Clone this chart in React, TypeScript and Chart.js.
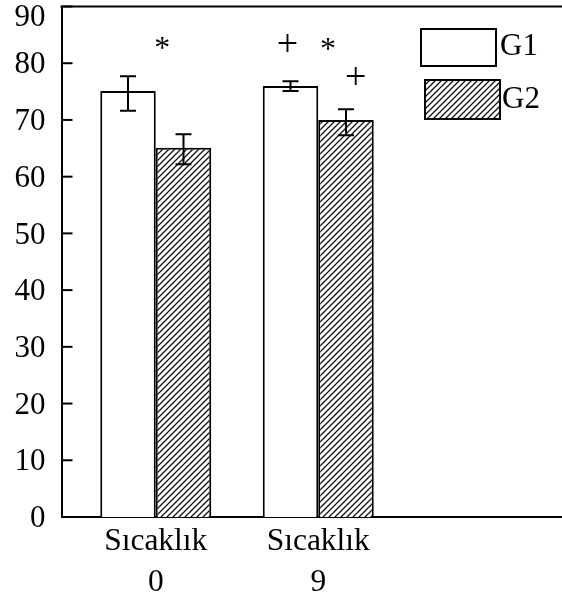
import { useEffect, useRef } from 'react';
import { Chart, registerables } from 'chart.js';

Chart.register(...registerables);

// ---- data ----
const categories: string[][] = [['Sıcaklık', '0'], ['Sıcaklık', '9']];
const categoryPositions = [0, 1];
const seriesNames = ['G1', 'G2'];
const g1Values = [75.1, 76.0];
const g1Low = [71.6, 75.1];
const g1High = [77.7, 76.8];
const g2Values = [65.1, 70.0];
const g2Low = [62.2, 67.3];
const g2High = [67.5, 71.9];
const yTicks = [0, 10, 20, 30, 40, 50, 60, 70, 80, 90];
const markTexts = ['*', '+', '*', '+'];
const markX = [0.04, 0.81, 1.06, 1.23];
const markY = [82.4, 83.0, 82.2, 77.3];

const FONT = '"Liberation Serif", "Times New Roman", serif';

function makeHatch(): CanvasPattern | string {
  const s = 6;
  const c = document.createElement('canvas');
  c.width = s;
  c.height = s;
  const g = c.getContext('2d');
  if (!g) return '#888';
  g.fillStyle = '#fff';
  g.fillRect(0, 0, s, s);
  g.strokeStyle = '#111';
  g.lineWidth = 1.3;
  g.beginPath();
  g.moveTo(-1, s + 1);
  g.lineTo(s + 1, -1);
  g.moveTo(-1, 1);
  g.lineTo(1, -1);
  g.moveTo(s - 1, s + 1);
  g.lineTo(s + 1, s - 1);
  g.stroke();
  return g.createPattern(c, 'repeat') || '#888';
}

export default function App() {
  const ref = useRef<HTMLCanvasElement>(null);

  useEffect(() => {
    document.body.style.margin = '0';
    document.body.style.background = '#fff';
    const hatch = makeHatch();
    const lows = [g1Low, g2Low];
    const highs = [g1High, g2High];

    const overlay = {
      id: 'overlay',
      afterDatasetsDraw(chart: any) {
        const ctx: CanvasRenderingContext2D = chart.ctx;
        const xs = chart.scales.x;
        const ys = chart.scales.y;
        const area = chart.chartArea;
        ctx.save();
        ctx.strokeStyle = '#000';
        ctx.lineWidth = 2;
        // error bars
        chart.data.datasets.forEach((_: any, di: number) => {
          const meta = chart.getDatasetMeta(di);
          meta.data.forEach((el: any, i: number) => {
            const x = el.x;
            const yh = ys.getPixelForValue(highs[di][i]);
            const yl = ys.getPixelForValue(lows[di][i]);
            const cap = 8;
            ctx.beginPath();
            ctx.moveTo(x, yh);
            ctx.lineTo(x, yl);
            ctx.moveTo(x - cap, yh);
            ctx.lineTo(x + cap, yh);
            ctx.moveTo(x - cap, yl);
            ctx.lineTo(x + cap, yl);
            ctx.stroke();
          });
        });
        // top frame line
        ctx.beginPath();
        ctx.moveTo(area.left - 1, area.top);
        ctx.lineTo(area.right, area.top);
        ctx.stroke();
        // inward y ticks
        ys.ticks.forEach((_: any, i: number) => {
          const py = ys.getPixelForTick(i);
          ctx.beginPath();
          ctx.moveTo(area.left, py);
          ctx.lineTo(area.left + 11, py);
          ctx.stroke();
        });
        // y tick labels
        ctx.fillStyle = '#000';
        ctx.font = `31px ${FONT}`;
        ctx.textAlign = 'right';
        ctx.textBaseline = 'middle';
        ys.ticks.forEach((t: any, i: number) => {
          const py = ys.getPixelForTick(i);
          ctx.fillText(String(t.value), area.left - 16, Math.max(py + 2, 18));
        });
        // significance marks
        ctx.textAlign = 'center';
        markTexts.forEach((m, i) => {
          const px = xs.getPixelForValue(markX[i]);
          const py = ys.getPixelForValue(markY[i]);
          ctx.font = `${m === '*' ? 32 : 38}px ${FONT}`;
          ctx.fillText(m, px, py);
        });
        // legend
        ctx.fillStyle = '#fff';
        ctx.fillRect(421, 29, 75, 37);
        ctx.strokeRect(421, 29, 75, 37);
        ctx.fillStyle = hatch as any;
        ctx.fillRect(425, 80, 75, 39);
        ctx.strokeRect(425, 80, 75, 39);
        ctx.fillStyle = '#000';
        ctx.font = `31px ${FONT}`;
        ctx.textAlign = 'left';
        ctx.fillText(seriesNames[0], 500, 47);
        ctx.fillText(seriesNames[1], 502, 100);
        ctx.restore();
      },
    };

    const chart = new Chart(ref.current as HTMLCanvasElement, {
      type: 'bar',
      data: {
        datasets: [
          {
            label: seriesNames[0],
            data: categoryPositions.map((x, i) => ({ x, y: g1Values[i] })),
            backgroundColor: '#fff',
            borderColor: '#000',
            borderWidth: 2,
            categoryPercentage: 0.683,
            barPercentage: 1,
          },
          {
            label: seriesNames[1],
            data: categoryPositions.map((x, i) => ({ x, y: g2Values[i] })),
            backgroundColor: hatch as any,
            borderColor: '#000',
            borderWidth: 2,
            categoryPercentage: 0.683,
            barPercentage: 1,
          },
        ] as any,
      },
      options: {
        responsive: false,
        animation: false,
        layout: { padding: { top: 6.5, left: 0, right: 0, bottom: 0 } },
        plugins: { legend: { display: false }, tooltip: { enabled: false } },
        scales: {
          x: {
            type: 'linear',
            offset: false,
            bounds: 'data',
            min: -0.58,
            max: 2.5,
            afterBuildTicks: (s: any) => {
              s.ticks = categoryPositions.map((v) => ({ value: v }));
            },
            afterFit: (s: any) => {
              s.height = 78;
              s.paddingLeft = 0;
              s.paddingRight = 0;
            },
            grid: { display: false, drawTicks: false },
            border: { display: true, color: '#000', width: 2 },
            ticks: {
              padding: 3.5,
              color: '#000',
              autoSkip: false,
              maxRotation: 0,
              font: { family: FONT, size: 31.5, lineHeight: 41.5 / 31.5 },
              callback: (_v: any, i: number) => categories[i],
            },
          },
          y: {
            min: 0,
            max: 90,
            afterBuildTicks: (s: any) => {
              s.ticks = yTicks.map((v) => ({ value: v }));
            },
            afterFit: (s: any) => {
              s.width = 61.5;
              s.paddingTop = 0;
              s.paddingBottom = 0;
            },
            grid: { display: false, drawTicks: false },
            border: { display: true, color: '#000', width: 2 },
            ticks: { display: false },
          },
        },
      } as any,
      plugins: [overlay],
    });
    return () => chart.destroy();
  }, []);

  return (
    <div style={{ width: 562, height: 595, background: '#fff' }}>
      <canvas ref={ref} width={562} height={595} style={{ display: 'block' }} />
    </div>
  );
}
